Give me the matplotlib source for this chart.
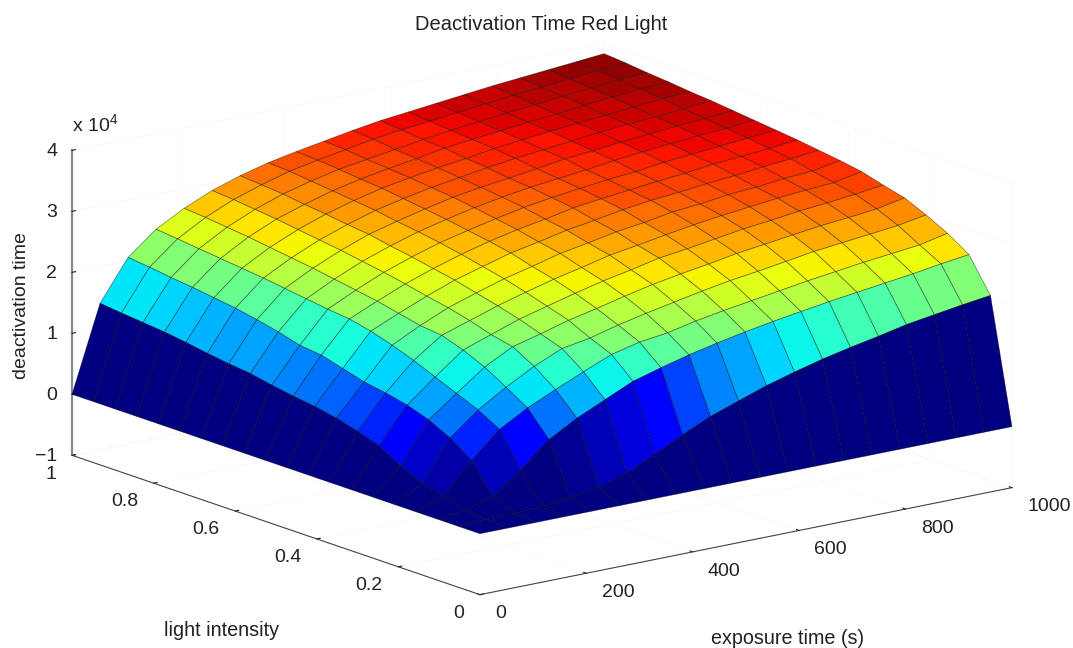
import numpy as np
import matplotlib
matplotlib.use("Agg")
import matplotlib.pyplot as plt
from matplotlib.transforms import ScaledTranslation
from mpl_toolkits.mplot3d import Axes3D  # noqa

plt.rcParams['font.family'] = ['Liberation Sans', 'DejaVu Sans']
plt.rcParams['mathtext.fontset'] = 'custom'
plt.rcParams['mathtext.rm'] = 'Liberation Sans'

exposure = np.array([0, 52.6, 105.3, 157.9, 210.5, 263.2, 315.8, 368.4, 421.1, 473.7, 526.3,
                     578.9, 631.6, 684.2, 736.8, 789.5, 842.1, 894.7, 947.4, 1000.0])
intensity = np.array([0, .0526, .1053, .1579, .2105, .2632, .3158, .3684, .4211, .4737, .5263,
                      .5789, .6316, .6842, .7368, .7895, .8421, .8947, .9474, 1.0])
# deactivation time in units of 10^4, one row per exposure time
dt_000 = [0]*20
dt_053 = [0, .03, .05, .157, .256, .42, .626, .74, .84, .91, .96, 1.02, 1.09, 1.13, 1.18, 1.24, 1.29, 1.325, 1.36, 1.40]
dt_105 = [0, .03, .185, .65, .90, 1.08, 1.20, 1.28, 1.34, 1.44, 1.54, 1.58, 1.68, 1.76, 1.83, 1.88, 1.93, 1.97, 2.02, 2.06]
dt_158 = [0, .05, .53, 1.07, 1.27, 1.42, 1.57, 1.72, 1.85, 1.96, 2.04, 2.08, 2.13, 2.18, 2.23, 2.27, 2.31, 2.35, 2.39, 2.43]
dt_211 = [0, .10, .93, 1.33, 1.55, 1.76, 1.92, 2.04, 2.08, 2.16, 2.24, 2.30, 2.36, 2.42, 2.47, 2.52, 2.57, 2.61, 2.65, 2.68]
dt_263 = [0, .18, 1.19, 1.54, 1.80, 2.00, 2.08, 2.19, 2.28, 2.35, 2.43, 2.50, 2.56, 2.62, 2.67, 2.72, 2.77, 2.81, 2.85, 2.88]
dt_316 = [0, .32, 1.40, 1.74, 2.00, 2.12, 2.24, 2.34, 2.43, 2.52, 2.59, 2.66, 2.72, 2.79, 2.83, 2.88, 2.92, 2.97, 3.00, 3.03]
dt_368 = [0, .527, 1.61, 1.93, 2.08, 2.25, 2.36, 2.47, 2.57, 2.65, 2.73, 2.80, 2.86, 2.91, 2.97, 3.01, 3.05, 3.09, 3.13, 3.15]
dt_421 = [0, .76, 1.74, 2.04, 2.20, 2.35, 2.48, 2.59, 2.68, 2.78, 2.85, 2.91, 2.97, 3.02, 3.07, 3.12, 3.15, 3.19, 3.22, 3.24]
dt_474 = [0, .97, 1.86, 2.10, 2.30, 2.46, 2.59, 2.69, 2.80, 2.87, 2.95, 3.01, 3.07, 3.12, 3.16, 3.20, 3.23, 3.26, 3.30, 3.32]
dt_526 = [0, 1.13, 1.96, 2.20, 2.39, 2.56, 2.68, 2.80, 2.88, 2.97, 3.03, 3.10, 3.15, 3.19, 3.23, 3.27, 3.30, 3.33, 3.38, 3.40]
dt_579 = [0, 1.29, 2.05, 2.28, 2.48, 2.64, 2.78, 2.87, 2.97, 3.04, 3.12, 3.17, 3.22, 3.25, 3.30, 3.33, 3.38, 3.40, 3.44, 3.47]
dt_632 = [0, 1.42, 2.13, 2.35, 2.56, 2.71, 2.84, 2.95, 3.03, 3.12, 3.18, 3.23, 3.27, 3.31, 3.36, 3.40, 3.43, 3.46, 3.49, 3.52]
dt_684 = [0, 1.54, 2.20, 2.42, 2.62, 2.79, 2.91, 3.02, 3.11, 3.18, 3.23, 3.28, 3.32, 3.38, 3.41, 3.45, 3.48, 3.51, 3.54, 3.57]
dt_737 = [0, 1.64, 2.27, 2.49, 2.69, 2.85, 2.98, 3.08, 3.15, 3.22, 3.28, 3.32, 3.38, 3.42, 3.46, 3.50, 3.53, 3.56, 3.59, 3.62]
dt_789 = [0, 1.73, 2.33, 2.55, 2.76, 2.91, 3.03, 3.13, 3.21, 3.27, 3.32, 3.38, 3.43, 3.47, 3.51, 3.54, 3.57, 3.60, 3.64, 3.67]
dt_842 = [0, 1.83, 2.39, 2.61, 2.81, 2.97, 3.09, 3.18, 3.24, 3.31, 3.38, 3.42, 3.47, 3.51, 3.55, 3.58, 3.62, 3.65, 3.68, 3.71]
dt_895 = [0, 1.90, 2.45, 2.66, 2.86, 3.01, 3.13, 3.22, 3.29, 3.36, 3.41, 3.46, 3.51, 3.55, 3.58, 3.62, 3.66, 3.69, 3.72, 3.75]
dt_947 = [0, 1.97, 2.52, 2.71, 2.91, 3.06, 3.18, 3.25, 3.32, 3.40, 3.45, 3.50, 3.54, 3.58, 3.62, 3.66, 3.70, 3.73, 3.76, 3.79]
dt_1000 = [0, 2.03, 2.58, 2.81, 2.99, 3.15, 3.24, 3.34, 3.40, 3.45, 3.50, 3.54, 3.58, 3.62, 3.66, 3.69, 3.73, 3.76, 3.80, 3.83]

x_ticks = [0, 200, 400, 600, 800, 1000]
y_ticks = [0, 0.2, 0.4, 0.6, 0.8, 1]
y_tick_labels = ['0', '0.2', '0.4', '0.6', '0.8', '1']
z_ticks = [-1, 0, 1, 2, 3, 4]

Z = np.array([dt_000, dt_053, dt_105, dt_158, dt_211, dt_263, dt_316, dt_368, dt_421, dt_474,
              dt_526, dt_579, dt_632, dt_684, dt_737, dt_789, dt_842, dt_895, dt_947, dt_1000]).T
X, Y = np.meshgrid(exposure, intensity)

FW, FH = 1073, 648
fig = plt.figure(figsize=(FW/100, FH/100), dpi=100, facecolor='white')
W = 1200.0
cx, cy = 542, 648 - 319
off = W * 0.95 / 1.85
ax = fig.add_axes([(cx-off)/FW, (cy-off)/FH, W/FW, W/FH], projection='3d',
                  proj_type='ortho', computed_zorder=True)
ax.set_facecolor((1, 1, 1, 0))
ax.patch.set_visible(False)
ax.set_box_aspect((670.6, 670.0, 316.0), zoom=970.0/W)
ax.view_init(elev=15.2, azim=-127.5)

cmap = plt.get_cmap('jet', 64)
fc = cmap(np.clip(Z / Z.max(), 0, 1))
ax.plot_surface(X, Y, Z, facecolors=fc, rstride=1, cstride=1, shade=False,
                edgecolor=(0, 0, 0, 0.5), linewidth=0.5, antialiased=True)

ax.set_xlim(0, 1000)
ax.set_ylim(0, 1)
ax.set_zlim(-1, 4)
ax.set_xticks(x_ticks)
ax.set_yticks(y_ticks)
ax.set_yticklabels(y_tick_labels)
ax.set_zticks(z_ticks)
ax.set_zticklabels(['\u22121', '0', '1', '2', '3', '4'])
ax.tick_params(axis='both', labelsize=14, colors='#222222')
ax.tick_params(axis='x', pad=6)
ax.tick_params(axis='y', pad=6)
ax.tick_params(axis='z', pad=4)
for axis in (ax.xaxis, ax.yaxis, ax.zaxis):
    axis.set_pane_color((1, 1, 1, 0))
    axis.pane.set_edgecolor((1, 1, 1, 0))
    axis._axinfo['grid'].update(color='#f3f3f3', linewidth=0.6, linestyle=':')
    axis._axinfo['tick'].update(inward_factor=0.0, outward_factor=0.08)
    axis._axinfo['tick']['linewidth'] = {True: 0.8, False: 0.5}
    axis._axinfo['axisline']['linewidth'] = 1.0
ax.xaxis.line.set_color('#444444')
ax.yaxis.line.set_color('#444444')
ax.zaxis.line.set_color('#888888')
ax.zaxis.line.set_linewidth(1.6)


def shift_labels(axis, ha, dx_px, dy_px):
    # Axis3D resets tick-label transforms on every draw, so pin the shifted one
    shifted = ax.transData + ScaledTranslation(dx_px/100, dy_px/100, fig.dpi_scale_trans)
    for tick in axis.get_major_ticks():
        lbl = tick.label1
        lbl.set_ha(ha)
        lbl.set_transform(shifted)
        lbl.set_transform = lambda *_a: None


shift_labels(ax.xaxis, 'left', 2.5, 3)
shift_labels(ax.yaxis, 'right', 1, 2.5)
shift_labels(ax.zaxis, 'right', 10, 6.5)

txt = '#222222'
fig.text(541/FW, 1-24/FH, 'Deactivation Time Red Light', ha='center', va='center', fontsize=14.5, color=txt)
fig.text(22/FW, 1-306/FH, 'deactivation time', ha='center', va='center', rotation=90, fontsize=14, color=txt)
fig.text(221/FW, 1-631/FH, 'light intensity', ha='center', va='center', fontsize=14.2, color=txt)
fig.text(788/FW, 1-639/FH, 'exposure time (s)', ha='center', va='center', fontsize=14.2, color=txt)
fig.text(72/FW, 1-125/FH, r'x 10$^{4}$', ha='left', va='center', fontsize=14, color=txt)

fig.savefig('out.png', dpi=100)
